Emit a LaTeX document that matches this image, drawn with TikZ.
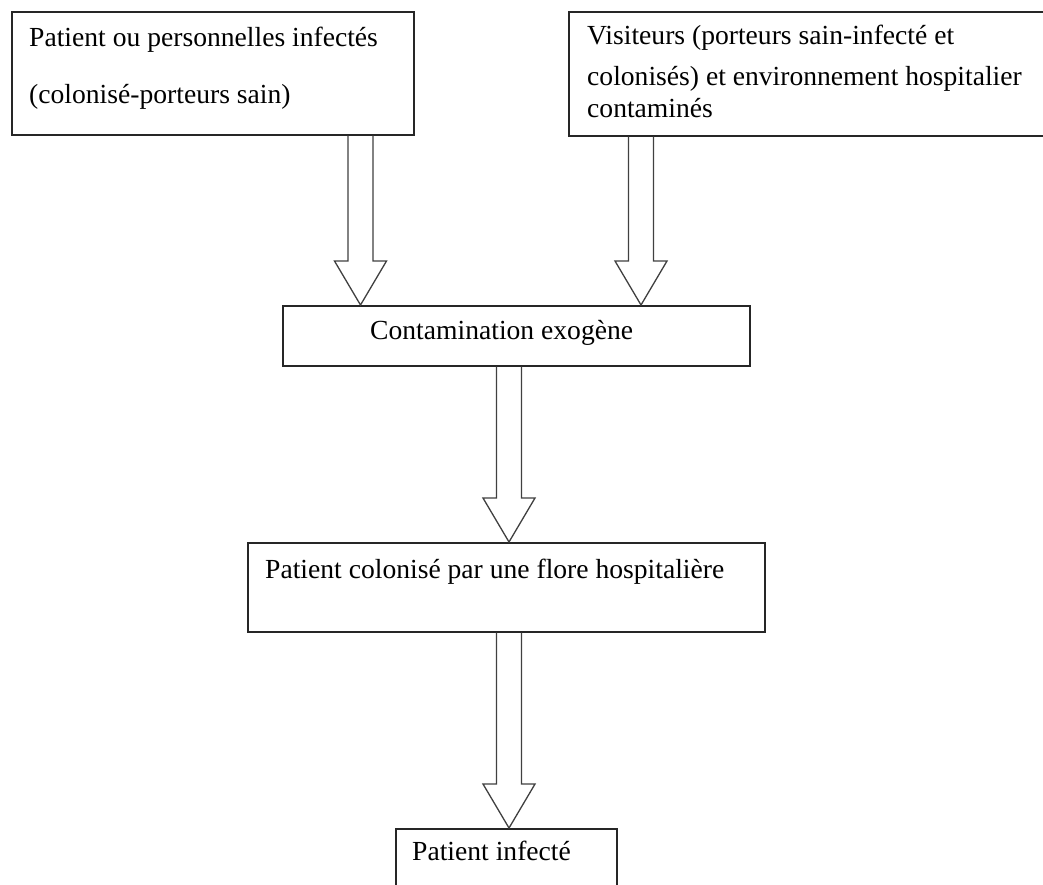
\documentclass[tikz,border=0pt]{standalone}
\usepackage{fontspec}
\setmainfont{Liberation Serif}
\usetikzlibrary{calc}
\tikzset{
  box/.style={draw=black!85, line width=1.6pt, rectangle, inner sep=0pt, fill=none},
  txt/.style={inner sep=0pt, font=\fontsize{27.6}{33}\selectfont, text=black},
  blockarr/.style={draw=black!75, line width=1.3pt, line join=miter},
}
\newcommand\blockarrow[2]{%
  \draw[blockarr] let \p1=(#1), \p2=(#2) in
    (\x2-12.5pt,\y1) -- (\x2-12.5pt,\y2+44pt) -- (\x2-26pt,\y2+44pt) -- (\x2,\y2)
    -- (\x2+26pt,\y2+44pt) -- (\x2+12.5pt,\y2+44pt) -- (\x2+12.5pt,\y1);}
\begin{document}
\begin{tikzpicture}[x=1pt,y=-1pt]
\clip (0,0) rectangle (1043,884);
\fill[white] (0,0) rectangle (1043,884);
% boxes
\node[box, anchor=north west, minimum width=402, minimum height=123] (b1) at (11,11) {};
\node[box, anchor=north west, minimum width=490, minimum height=124] (b2) at (568,11) {};
\node[box, anchor=north west, minimum width=467, minimum height=60] (b3) at (282,305) {};
\node[box, anchor=north west, minimum width=517, minimum height=89] (b4) at (247,542) {};
\node[box, anchor=north west, minimum width=221, minimum height=80] (b5) at (395,828) {};
% texts
\node[txt, anchor=base west] (t1a) at (29,46) {Patient ou personnelles infectés};
\node[txt, anchor=base west] (t1b) at (29,103) {(colonisé-porteurs sain)};
\node[txt, anchor=base west] (t2a) at (587,44) {Visiteurs (porteurs sain-infecté et};
\node[txt, anchor=base west] (t2b) at (587,85) {colonisés) et environnement hospitalier};
\node[txt, anchor=base west] (t2c) at (587,117) {contaminés};
\node[txt, anchor=base west] (t3) at (370,339) {Contamination exogène};
\node[txt, anchor=base west] (t4) at (265,578) {Patient colonisé par une flore hospitalière};
\node[txt, anchor=base west] (t5) at (412,860) {Patient infecté};
% arrow anchors
\coordinate (a1s) at (b1.south -| 360.5,0);
\coordinate (a1e) at (b3.north -| 360.5,0);
\coordinate (a2s) at (b2.south -| 641,0);
\coordinate (a2e) at (b3.north -| 641,0);
\coordinate (a3s) at (b3.south -| 509,0);
\coordinate (a3e) at (b4.north -| 509,0);
\coordinate (a4s) at (b4.south -| 509,0);
\coordinate (a4e) at (b5.north -| 509,0);
\blockarrow{a1s}{a1e}
\blockarrow{a2s}{a2e}
\blockarrow{a3s}{a3e}
\blockarrow{a4s}{a4e}
\end{tikzpicture}
\end{document}
